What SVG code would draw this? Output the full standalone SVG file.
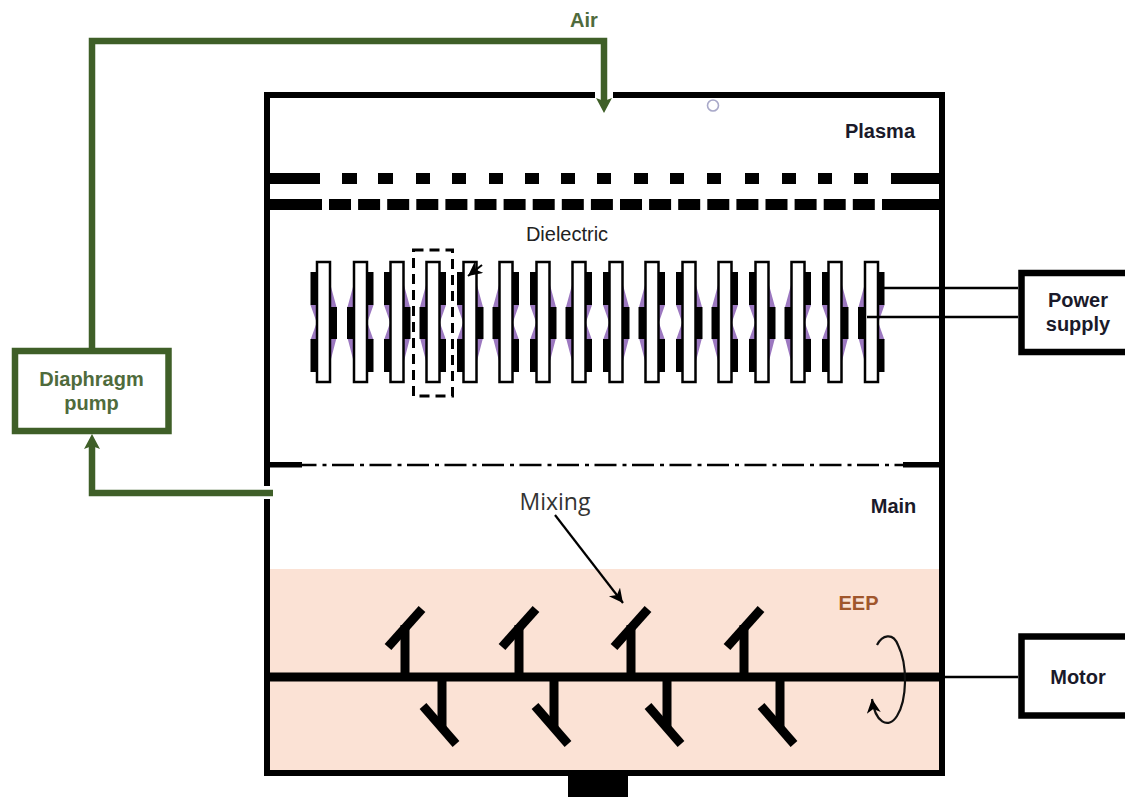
<svg xmlns="http://www.w3.org/2000/svg" width="1125" height="797" viewBox="0 0 1125 797">
<style>
.b{fill:#000}
.w{fill:none;stroke:#000;stroke-width:6}
.g{fill:none;stroke:#3f5f28;stroke-width:6.5}
.t{fill:none;stroke:#000;stroke-width:2.4}
.s{font-family:"Liberation Sans",Arial,sans-serif;font-size:20px;font-weight:700;fill:#1a1a2a;text-anchor:middle}
.gt{fill:#4f6b3c}
.pl{fill:#fff;stroke:#000;stroke-width:2.5}
.pu{fill:#9c78c0}
</style>
<defs>
<g id="plA">
<path class="pu" d="M7 24 L13 46 L7 46 Z M7 100 L13 77 L7 77 Z M-7 44 L-13 44 L-7 61 Z M-7 79 L-13 79 L-7 62 Z"/>
<rect class="b" x="-13" y="11" width="6.500" height="33"/><rect class="b" x="-13" y="78" width="6.500" height="33"/>
<rect class="b" x="6.500" y="46" width="7" height="32"/>
<rect class="pl" x="-6.500" y="1" width="13" height="120"/>
</g>
<g id="plB">
<path class="pu" d="M-7 24 L-13 46 L-7 46 Z M-7 100 L-13 77 L-7 77 Z M7 44 L13 44 L7 61 Z M7 79 L13 79 L7 62 Z"/>
<rect class="b" x="6.500" y="11" width="6.500" height="33"/><rect class="b" x="6.500" y="78" width="6.500" height="33"/>
<rect class="b" x="-13.500" y="46" width="7" height="32"/>
<rect class="pl" x="-6.500" y="1" width="13" height="120"/>
</g>
<g id="up"><rect class="b" x="-4.500" y="-52" width="9" height="48"/><path d="M-17 -30 L17 -68" stroke="#000" stroke-width="9" fill="none"/></g>
<g id="dn"><rect class="b" x="-4.500" y="4" width="9" height="46"/><path d="M-19 29 L14 67" stroke="#000" stroke-width="9" fill="none"/></g>
<marker id="ga" markerUnits="userSpaceOnUse" markerWidth="20" markerHeight="20" refX="6" refY="8" orient="auto"><path d="M0 0 L15 8 L0 16 L3 8 Z" fill="#3f5f28"/></marker>
<marker id="oa" markerUnits="userSpaceOnUse" markerWidth="18" markerHeight="18" refX="14" refY="7" orient="auto"><path d="M0 0 L14 7 L0 14 L4 7 Z" fill="#000"/></marker>
</defs>

<rect id="eep-zone" x="270" y="569" width="670" height="202" fill="#fbe2d5"/>

<g id="chamber">
<path class="w" d="M267 486 V95 H595 M613 95 H942 V773 H267 V499"/>
<rect class="b" x="568" y="776" width="60" height="21"/>
</g>

<g id="plasma-grid">
<rect class="b" x="270" y="173" width="50" height="11"/><rect class="b" x="891" y="173" width="50" height="11"/>
<rect class="b" x="342" y="173" width="15" height="11"/><rect class="b" x="378" y="173" width="15" height="11"/><rect class="b" x="416" y="173" width="14" height="11"/><rect class="b" x="452" y="173" width="14" height="11"/><rect class="b" x="489" y="173" width="14" height="11"/><rect class="b" x="525" y="173" width="14" height="11"/><rect class="b" x="561" y="173" width="14" height="11"/><rect class="b" x="597" y="173" width="14" height="11"/><rect class="b" x="634" y="173" width="14" height="11"/><rect class="b" x="670" y="173" width="14" height="11"/><rect class="b" x="707" y="173" width="14" height="11"/><rect class="b" x="745" y="173" width="14" height="11"/><rect class="b" x="782" y="173" width="14" height="11"/><rect class="b" x="818" y="173" width="14" height="11"/><rect class="b" x="854" y="173" width="14" height="11"/>
<rect class="b" x="270" y="199" width="52" height="11"/><rect class="b" x="882" y="199" width="59" height="11"/>
<path d="M329 204.500 H876" stroke="#000" stroke-width="11" stroke-dasharray="22 7.100" fill="none"/>
</g>

<g id="mid-grid">
<rect class="b" x="270" y="462" width="32" height="5.500"/><rect class="b" x="903" y="462" width="38" height="5.500"/>
<path d="M302 465 H903" stroke="#000" stroke-width="2.600" stroke-dasharray="22 6 4 5.500" stroke-dashoffset="7.500" fill="none"/>
</g>

<g id="electrodes">
<use href="#plA" transform="translate(323.500 261)"/><use href="#plB" transform="translate(360.500 261)"/>
<use href="#plA" transform="translate(397 261)"/><use href="#plB" transform="translate(433 261)"/>
<use href="#plA" transform="translate(470 261)"/><use href="#plB" transform="translate(506 261)"/>
<use href="#plA" transform="translate(543 261)"/><use href="#plB" transform="translate(579 261)"/>
<use href="#plA" transform="translate(616 261)"/><use href="#plB" transform="translate(652 261)"/>
<use href="#plA" transform="translate(689 261)"/><use href="#plB" transform="translate(725 261)"/>
<use href="#plA" transform="translate(762 261)"/><use href="#plB" transform="translate(798 261)"/>
<use href="#plA" transform="translate(835 261)"/><use href="#plB" transform="translate(871.500 261)"/>
</g>

<rect id="electrode-highlight" x="413.500" y="250" width="39" height="146" fill="none" stroke="#000" stroke-width="3" stroke-dasharray="10 6"/>

<g id="agitator">
<rect class="b" x="268" y="672.500" width="674" height="9"/>
<use href="#up" transform="translate(405 677)"/><use href="#up" transform="translate(519 677)"/><use href="#up" transform="translate(631 677)"/><use href="#up" transform="translate(744 677)"/>
<use href="#dn" transform="translate(442 677)"/><use href="#dn" transform="translate(554 677)"/><use href="#dn" transform="translate(667 677)"/><use href="#dn" transform="translate(780 677)"/>
</g>

<g id="connectors">
<path class="g" d="M92 348 V41 H604 V104" marker-end="url(#ga)"/>
<path class="g" d="M273 493 H92 V443" marker-end="url(#ga)"/>
<path class="t" d="M884 288 H1018 M867 317 H1018"/>
<path class="t" d="M942 677 H1018"/>
<path d="M555 515 L623 603" stroke="#000" stroke-width="2.200" fill="none" marker-end="url(#oa)"/>
<path d="M482 265 L468 276" stroke="#000" stroke-width="2" fill="none" marker-end="url(#oa)"/>
<path d="M877 645 C882 635 893 632 898 645 C908 665 907 700 897 716 C888 730 875 722 872 699" stroke="#111" stroke-width="2.200" fill="none" marker-end="url(#oa)"/>
</g>

<circle id="port" cx="713" cy="105.500" r="5.500" fill="#fff" stroke="#a9a9c9" stroke-width="1.600"/>

<g id="pump"><rect x="15" y="351" width="153.500" height="80" fill="#fff" stroke="#3f5f28" stroke-width="6.500"/>
<text class="s gt" x="91.500" y="386">Diaphragm</text><text class="s gt" x="91.500" y="410">pump</text></g>
<g id="power"><rect x="1021.500" y="273" width="120" height="79" fill="#fff" stroke="#000" stroke-width="6.500"/>
<text class="s" x="1078" y="307">Power</text><text class="s" x="1078" y="331">supply</text></g>
<g id="motor"><rect x="1021.500" y="636.500" width="120" height="79" fill="#fff" stroke="#000" stroke-width="6.500"/>
<text class="s" x="1078" y="684">Motor</text></g>

<g id="labels">
<text class="s gt" x="584" y="27">Air</text>
<text class="s" x="880" y="138">Plasma</text>
<text class="s" x="893.500" y="513">Main</text>
<text class="s" x="858.500" y="610" style="fill:#a0562c">EEP</text>
<text x="567" y="241" font-family="Liberation Sans,Arial,sans-serif" font-size="20" text-anchor="middle" fill="#222">Dielectric</text>
<text x="555" y="510" font-family="Open Sans,sans-serif" font-size="23" text-anchor="middle" fill="#333">Mixing</text>
</g>
</svg>
